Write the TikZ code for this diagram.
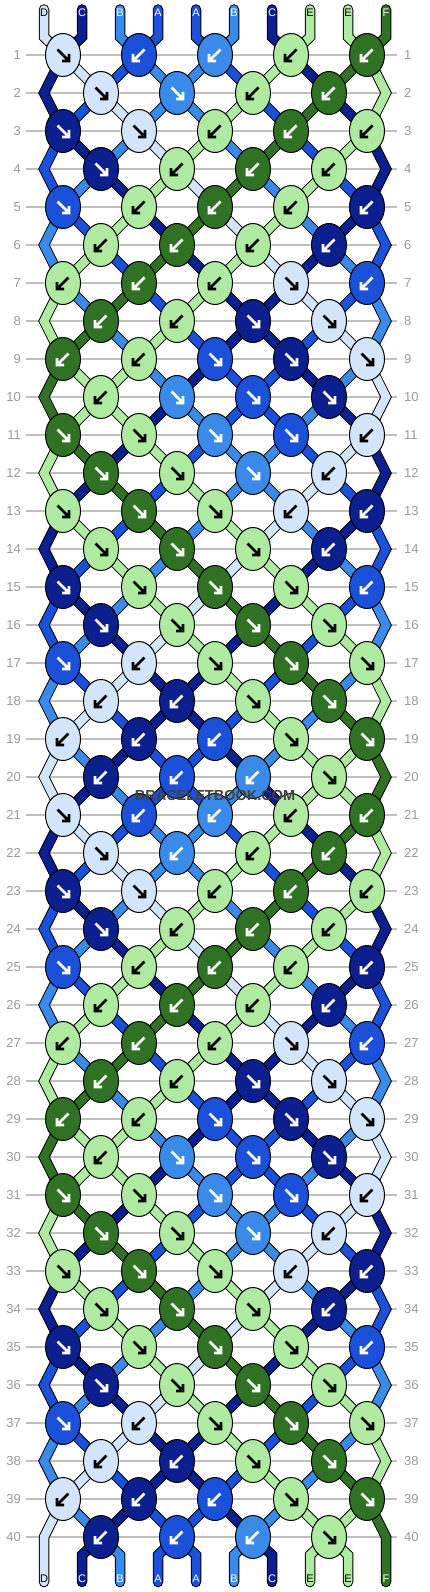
\documentclass[tikz,border=0pt]{standalone}
\usepackage{fontspec}
\setmainfont{Liberation Sans}
\usetikzlibrary{shapes.geometric}
\pgfdeclarelayer{grid}
\pgfdeclarelayer{strands}
\pgfsetlayers{grid,strands,main}
\definecolor{cD}{HTML}{D2E5FB}
\definecolor{cC}{HTML}{0C1F8E}
\definecolor{cB}{HTML}{3A8BE9}
\definecolor{cA}{HTML}{1B50D9}
\definecolor{cE}{HTML}{AEEA9F}
\definecolor{cF}{HTML}{307223}
\begin{document}
\begin{tikzpicture}%
	[x=1pt, y=-1pt,
	knot/.style={ellipse, draw=black, line width=1pt, minimum width=35pt, minimum height=43pt, inner sep=0pt},
	strand/.style={draw=black, line width=1pt, double=#1, double distance=8.5pt, line cap=round, line join=miter},
	arrowline/.style={line width=2.7pt, line join=miter},
	tag/.style={font=\fontsize{11}{11}\selectfont, inner sep=0pt},
	rownum/.style={font=\fontsize{13}{13}\selectfont, text=gray!80, inner sep=0pt},
	rowline/.style={draw=black!25, line width=1.2pt},
	stamp/.style={font=\fontsize{14.5}{14.5}\selectfont\bfseries, text=black!75, inner sep=0pt},
	tipD/.style={black}, tipC/.style={white}, tipB/.style={white},
	tipA/.style={white}, tipE/.style={black}, tipF/.style={white},
	pics/arrow r/.style={code={\draw[arrowline] (-5.5,-5.5) -- (6,6) (-1,6) -- (6,6) -- (6,-1);}},
	pics/arrow l/.style={code={\draw[arrowline] (5.5,-5.5) -- (-6,6) (1,6) -- (-6,6) -- (-6,-1);}}]
\useasboundingbox (0,0) rectangle (430,1592);
%
%% Row numbers and guide lines
%%
\foreach \r in {1,...,40} {
  \pgfmathsetmacro\ry{55+38*(\r-1)}
  \node[rownum, anchor=east] (nl\r) at (21,\ry) {\r};
  \node[rownum, anchor=west] (nr\r) at (404,\ry) {\r};
  \begin{pgfonlayer}{grid}
    \draw[rowline] (26,\ry) -- (397,\ry);
  \end{pgfonlayer}
}
%%
%% Turning points at the edges (even rows)
%%
\foreach \r in {2,4,...,40} {
  \pgfmathsetmacro\ry{55+38*(\r-1)}
  \coordinate (cL\r) at (44,\ry);
  \coordinate (cR\r) at (386,\ry);
}
%%
%% String ends with their letters
%%
\foreach \c [count=\i] in {D,C,B,A,A,B,C,E,E,F} {
  \pgfmathsetmacro\sx{44+38*(\i-1)}
  \coordinate (top\i) at (\sx,9.5);
  \coordinate (tab\i) at (\sx,37);
  \coordinate (foot\i) at (\sx,1555);
  \coordinate (bot\i) at (\sx,1582);
  \node[tag, tip\c] (head\i) at (\sx,13) {\c};
  \node[tag, tip\c] (tail\i) at (\sx,1579) {\c};
}
%%
%% Knots: colour / direction (r = forward, l = backward)
%%
\foreach \r/\row in {
  1/{D/r,A/l,B/l,E/l,F/l}, 2/{D/r,B/r,E/l,F/l},
  3/{C/r,D/r,E/l,F/l,E/l}, 4/{C/r,E/l,F/l,E/l},
  5/{A/r,E/l,F/l,E/l,C/l}, 6/{E/l,F/l,E/l,C/l},
  7/{E/l,F/l,E/l,D/r,A/l}, 8/{F/l,E/l,C/r,D/r},
  9/{F/l,E/l,A/r,C/r,D/r}, 10/{E/l,B/r,A/r,C/r},
  11/{F/r,E/r,B/r,A/r,D/l}, 12/{F/r,E/r,B/r,D/l},
  13/{E/r,F/r,E/r,D/l,C/l}, 14/{E/r,F/r,E/r,C/l},
  15/{C/r,E/r,F/r,E/r,A/l}, 16/{C/r,E/r,F/r,E/r},
  17/{A/r,D/l,E/r,F/r,E/r}, 18/{D/l,C/l,E/r,F/r},
  19/{D/l,C/l,A/l,E/r,F/r}, 20/{C/l,A/l,B/l,E/r},
  21/{D/r,A/l,B/l,E/l,F/l}, 22/{D/r,B/l,E/l,F/l},
  23/{C/r,D/r,E/l,F/l,E/l}, 24/{C/r,E/l,F/l,E/l},
  25/{A/r,E/l,F/l,E/l,C/l}, 26/{E/l,F/l,E/l,C/l},
  27/{E/l,F/l,E/l,D/r,A/l}, 28/{F/l,E/l,C/r,D/r},
  29/{F/l,E/l,A/r,C/r,D/r}, 30/{E/l,B/r,A/r,C/r},
  31/{F/r,E/r,B/r,A/r,D/l}, 32/{F/r,E/r,B/r,D/l},
  33/{E/r,F/r,E/r,D/l,C/l}, 34/{E/r,F/r,E/r,C/l},
  35/{C/r,E/r,F/r,E/r,A/l}, 36/{C/r,E/r,F/r,E/r},
  37/{A/r,D/l,E/r,F/r,E/r}, 38/{D/l,C/l,E/r,F/r},
  39/{D/l,C/l,A/l,E/r,F/r}, 40/{C/l,A/l,B/l,E/r}} {
  \foreach \c/\d [count=\j] in \row {
    \pgfmathsetmacro\kx{63+76*(\j-1)+38*(1-mod(\r,2))}
    \pgfmathsetmacro\ky{55+38*(\r-1)}
    \node[knot, fill=c\c] (k\r-\j) at (\kx,\ky) {};
    \pic[tip\c] at (k\r-\j) {arrow \d};
  }
}
%%
%% The strings, one path each
%%
\begin{pgfonlayer}{strands}
\draw[strand=cD] (top1) -- (tab1) -- (k1-1.center) -- (k9-5.center) -- (cR10) -- (k11-5.center) -- (k19-1.center) -- (cL20) -- (k21-1.center) -- (k29-5.center) -- (cR30) -- (k31-5.center) -- (k39-1.center) -- (cL40) -- (foot1) -- (bot1);
\draw[strand=cC] (top2) -- (tab2) -- (k1-1.center) -- (cL2) -- (k3-1.center) -- (k11-5.center) -- (cR12) -- (k13-5.center) -- (k21-1.center) -- (cL22) -- (k23-1.center) -- (k31-5.center) -- (cR32) -- (k33-5.center) -- (k40-1.center) -- (foot2) -- (bot2);
\draw[strand=cB] (top3) -- (tab3) -- (k1-2.center) -- (k7-5.center) -- (cR8) -- (k9-5.center) -- (k17-1.center) -- (cL18) -- (k19-1.center) -- (k27-5.center) -- (cR28) -- (k29-5.center) -- (k37-1.center) -- (cL38) -- (k39-1.center) -- (k40-1.center) -- (foot3) -- (bot3);
\draw[strand=cA] (top4) -- (tab4) -- (k1-2.center) -- (k3-1.center) -- (cL4) -- (k5-1.center) -- (k13-5.center) -- (cR14) -- (k15-5.center) -- (k23-1.center) -- (cL24) -- (k25-1.center) -- (k33-5.center) -- (cR34) -- (k35-5.center) -- (k40-2.center) -- (foot4) -- (bot4);
\draw[strand=cA] (top5) -- (tab5) -- (k1-3.center) -- (k5-5.center) -- (cR6) -- (k7-5.center) -- (k15-1.center) -- (cL16) -- (k17-1.center) -- (k25-5.center) -- (cR26) -- (k27-5.center) -- (k35-1.center) -- (cL36) -- (k37-1.center) -- (k40-2.center) -- (foot5) -- (bot5);
\draw[strand=cB] (top6) -- (tab6) -- (k1-3.center) -- (k5-1.center) -- (cL6) -- (k7-1.center) -- (k15-5.center) -- (cR16) -- (k17-5.center) -- (k25-1.center) -- (cL26) -- (k27-1.center) -- (k35-5.center) -- (cR36) -- (k37-5.center) -- (k40-3.center) -- (foot6) -- (bot6);
\draw[strand=cC] (top7) -- (tab7) -- (k1-4.center) -- (k3-5.center) -- (cR4) -- (k5-5.center) -- (k13-1.center) -- (cL14) -- (k15-1.center) -- (k23-5.center) -- (cR24) -- (k25-5.center) -- (k33-1.center) -- (cL34) -- (k35-1.center) -- (k40-3.center) -- (foot7) -- (bot7);
\draw[strand=cE] (top8) -- (tab8) -- (k1-4.center) -- (k7-1.center) -- (cL8) -- (k9-1.center) -- (k17-5.center) -- (cR18) -- (k19-5.center) -- (k27-1.center) -- (cL28) -- (k29-1.center) -- (k37-5.center) -- (cR38) -- (k39-5.center) -- (k40-4.center) -- (foot8) -- (bot8);
\draw[strand=cE] (top9) -- (tab9) -- (k1-5.center) -- (cR2) -- (k3-5.center) -- (k11-1.center) -- (cL12) -- (k13-1.center) -- (k21-5.center) -- (cR22) -- (k23-5.center) -- (k31-1.center) -- (cL32) -- (k33-1.center) -- (k40-4.center) -- (foot9) -- (bot9);
\draw[strand=cF] (top10) -- (tab10) -- (k1-5.center) -- (k9-1.center) -- (cL10) -- (k11-1.center) -- (k19-5.center) -- (cR20) -- (k21-5.center) -- (k29-1.center) -- (cL30) -- (k31-1.center) -- (k39-5.center) -- (cR40) -- (foot10) -- (bot10);
\end{pgfonlayer}
%%
%% Watermark
%%
\node[stamp] (logo) at (215,795) {BRACELETBOOK.COM};
%%
\end{tikzpicture}
\end{document}
